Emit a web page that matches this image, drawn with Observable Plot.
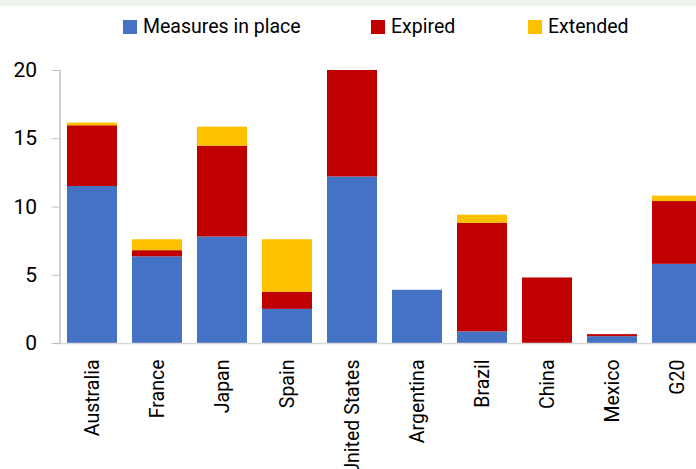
<!DOCTYPE html>
<html>
<head>
<meta charset="utf-8">
<script src="https://cdn.jsdelivr.net/npm/d3@7"></script>
<script src="https://cdn.jsdelivr.net/npm/@observablehq/plot@0.6"></script>
<style>
  html, body { margin: 0; padding: 0; background: #fff; overflow: hidden; }
  body { width: 696px; height: 469px; font-family: Roboto, "Noto Sans", sans-serif; color: #000; }
  #band { height: 6px; background: #eef4ee; }
  #legend { position: relative; height: 44px; }
  .item { position: absolute; top: 9px; display: flex; align-items: center; font-size: 19.5px; line-height: 24px; }
  .sw { width: 14px; height: 14px; margin-right: 6px; }
</style>
</head>
<body>
<div id="band"></div>
<div id="legend"></div>
<div id="chart"></div>
<script>
const categories = ["Australia", "France", "Japan", "Spain", "United States", "Argentina", "Brazil", "China", "Mexico", "G20"];
const seriesNames = ["Measures in place", "Expired", "Extended"];
const seriesColors = ["#4472c4", "#c00000", "#ffc000"];
const measuresInPlace = [11.5, 6.35, 7.8, 2.5, 12.2, 3.9, 0.85, 0, 0.5, 5.8];
const expired = [4.45, 0.45, 6.65, 1.25, 7.8, 0, 7.95, 4.8, 0.15, 4.6];
const extended = [0.2, 0.8, 1.4, 3.85, 0, 0, 0.6, 0, 0, 0.4];
const yTicks = [0, 5, 10, 15, 20];

const seriesValues = [measuresInPlace, expired, extended];
const data = [];
seriesNames.forEach((s, si) => {
  categories.forEach((c, ci) => data.push({category: c, series: s, value: seriesValues[si][ci]}));
});

// legend
const legendLefts = [123, 371, 528];
const legend = document.getElementById("legend");
seriesNames.forEach((s, i) => {
  const it = document.createElement("div");
  it.className = "item";
  it.style.left = legendLefts[i] + "px";
  it.innerHTML = `<span class="sw" style="background:${seriesColors[i]}"></span><span>${s}</span>`;
  legend.appendChild(it);
});

const chart = Plot.plot({
  width: 696,
  height: 419,
  marginTop: 20,
  marginBottom: 126,
  marginLeft: 59.5,
  marginRight: 0,
  style: {fontFamily: "Roboto, 'Noto Sans', sans-serif", fontSize: "19px", color: "#000", background: "#fff"},
  x: {domain: categories, range: [59.5, 709.5], paddingInner: 0.23, paddingOuter: 0.115, label: null, axis: null},
  y: {domain: [0, 20], label: null, axis: null},
  color: {domain: seriesNames, range: seriesColors},
  marks: [
    Plot.barY(data, {x: "category", y: "value", fill: "series"}),
    Plot.ruleY([0], {stroke: "#d9d9d9", strokeWidth: 1.5}),
    Plot.frame({anchor: "left", stroke: "#bfbfbf", strokeWidth: 1.5}),
    Plot.axisY(yTicks, {tickSize: 8, tickPadding: 15, stroke: "#bfbfbf", fill: "#000", fontSize: 21, label: null}),
    Plot.axisX({tickSize: 0, tickPadding: 16, tickRotate: -90, fill: "#000", fontSize: 19.5, label: null})
  ]
});
document.getElementById("chart").appendChild(chart);
</script>
</body>
</html>
